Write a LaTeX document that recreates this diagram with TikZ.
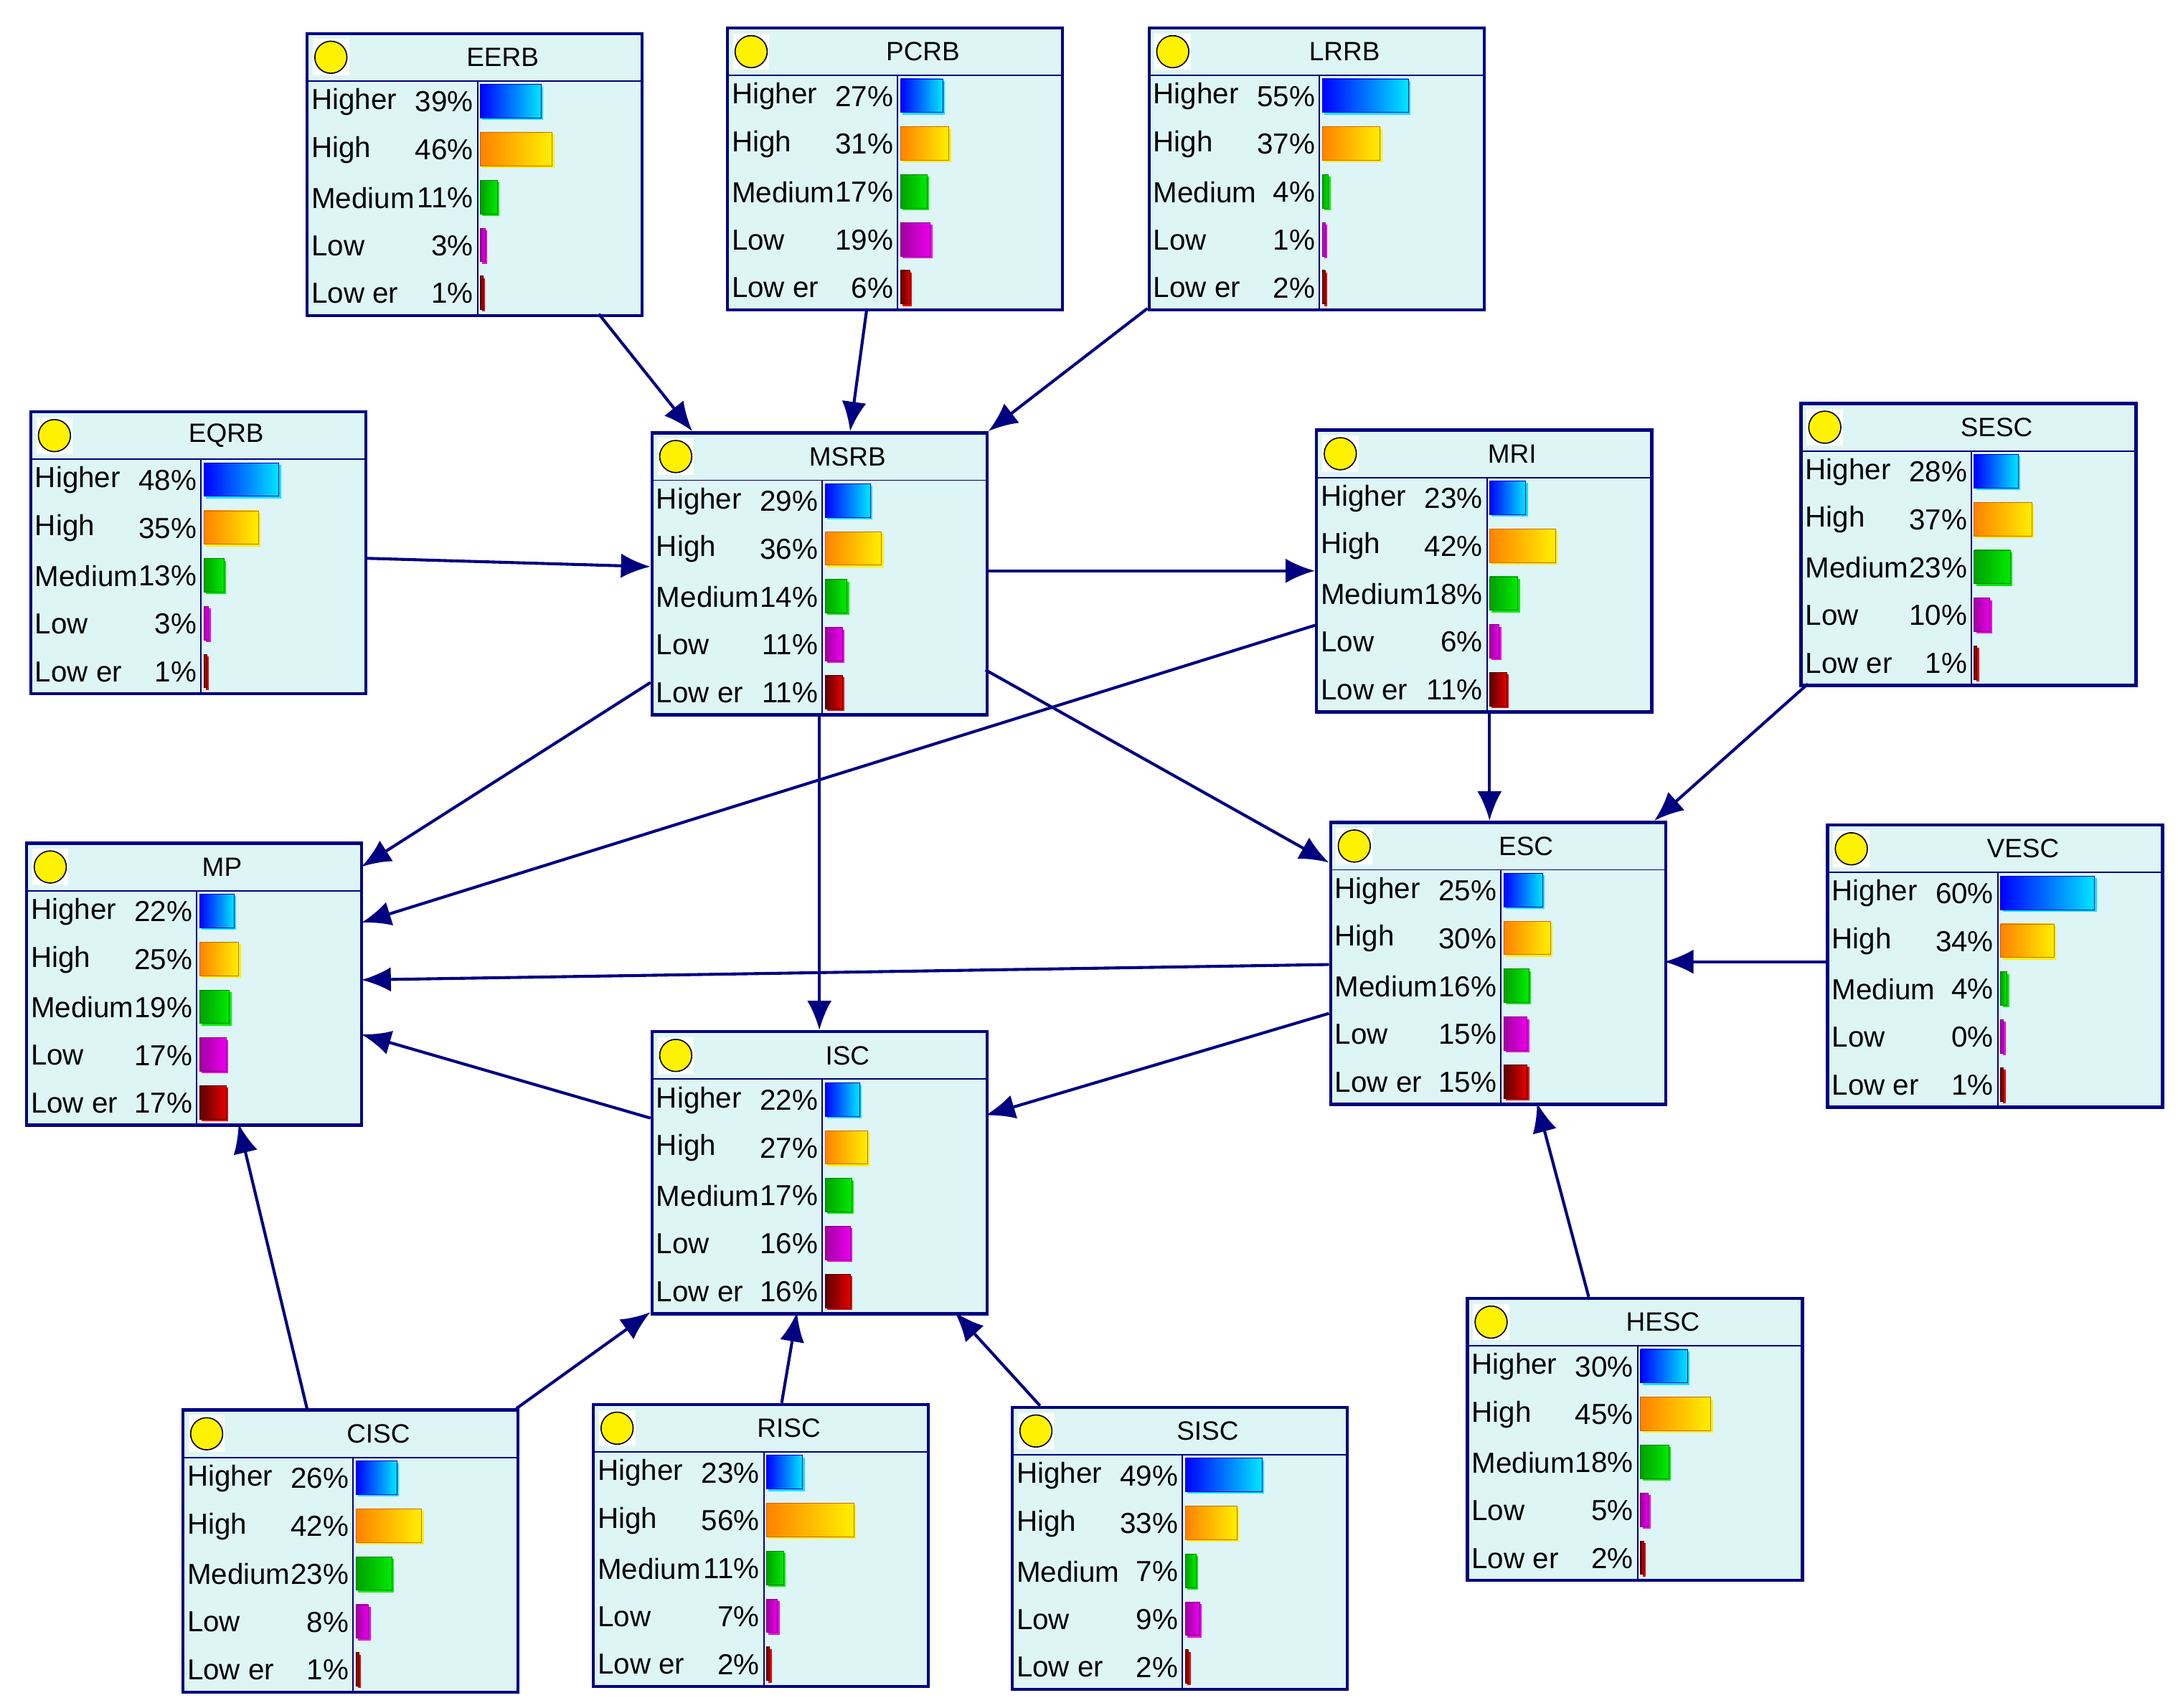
\documentclass[tikz,border=0pt]{standalone}
\usepackage{fontspec}
\setmainfont{Liberation Sans}
\usetikzlibrary{calc,arrows.meta}
\definecolor{nv}{RGB}{0,0,128}
\definecolor{bg}{RGB}{222,245,245}
\definecolor{b1}{RGB}{0,0,255}\definecolor{b2}{RGB}{0,230,255}
\definecolor{o1}{RGB}{255,130,0}\definecolor{o2}{RGB}{255,240,0}
\definecolor{g1}{RGB}{0,160,0}\definecolor{g2}{RGB}{0,235,0}
\definecolor{m1}{RGB}{160,0,160}\definecolor{m2}{RGB}{235,0,235}
\definecolor{r1}{RGB}{90,0,0}\definecolor{r2}{RGB}{230,0,0}
\tikzset{
 bn/.style={draw=nv,fill=bg,line width=3.2pt,minimum width=12cm,minimum height=10.1cm,inner sep=0pt},
 txt/.style={inner sep=0pt,font=\fontsize{29.5}{32}\selectfont},
 ttl/.style={inner sep=0pt,font=\fontsize{27}{30}\selectfont},
 ed/.style={draw=nv,line width=3pt,-{Latex[length=30pt,width=25pt]}},
 thin/.style={draw=nv,line width=1.4pt}
}
\newcommand\bnrow[5]{%
 \pgfmathsetmacro\ry{49+34.3*#3}%
 \node[anchor=west,txt] at (3,\ry) {#1};%
 \node[anchor=east,txt] at (119,\ry) {#2\%};%
 \pgfmathsetmacro\bw{max(1.12*#2,2)}%
 \fill[#5] (125.5,\ry-11) rectangle (124+\bw+1.5,\ry+13);%
 \shade[left color=#4,right color=#5,draw=#4!80!black,line width=0.6pt] (124,\ry-12.5) rectangle (124+\bw,\ry+11.5);%
}
\newcommand\bn[8]{%
 \node[bn] (#1) at (#2+120,#3+101) {};%
 \begin{scope}[shift={(#2,#3)}]
 \draw[thin] (0,34)--(240,34) (122,34)--(122,202);
 \fill[white] (4,4) rectangle (30,30);
 \filldraw[fill=yellow,draw=black,line width=1.2pt] (17,17) circle (11.5);
 \node[ttl] at (140,17) {#1};
 \bnrow{Higher}{#4}{0}{b1}{b2}
 \bnrow{High}{#5}{1}{o1}{o2}
 \bnrow{Medium}{#6}{2}{g1}{g2}
 \bnrow{Low}{#7}{3}{m1}{m2}
 \bnrow{Low er}{#8}{4}{r1}{r2}
 \end{scope}}
\begin{document}
\begin{tikzpicture}[x=0.05cm,y=-0.05cm]
\useasboundingbox (0,0) rectangle (1560,1223);
\fill[white] (0,0) rectangle (1560,1223);
\bn{EERB}{220}{24}{39}{46}{11}{3}{1}
\bn{PCRB}{521}{20}{27}{31}{17}{19}{6}
\bn{LRRB}{823}{20}{55}{37}{4}{1}{2}
\bn{EQRB}{22}{295}{48}{35}{13}{3}{1}
\bn{MSRB}{467}{310}{29}{36}{14}{11}{11}
\bn{MRI}{943}{308}{23}{42}{18}{6}{11}
\bn{SESC}{1290}{289}{28}{37}{23}{10}{1}
\bn{MP}{19}{604}{22}{25}{19}{17}{17}
\bn{ESC}{953}{589}{25}{30}{16}{15}{15}
\bn{VESC}{1309}{591}{60}{34}{4}{0}{1}
\bn{ISC}{467}{739}{22}{27}{17}{16}{16}
\bn{HESC}{1051}{930}{30}{45}{18}{5}{2}
\bn{CISC}{131}{1010}{26}{42}{23}{8}{1}
\bn{RISC}{425}{1006}{23}{56}{11}{7}{2}
\bn{SISC}{725}{1008}{49}{33}{7}{9}{2}
\path[ed] ($(EERB.north west)+(210,202)$) -- ($(MSRB.north west)+(30,0)$);
\path[ed] ($(PCRB.north west)+(101,202)$) -- ($(MSRB.north west)+(143,0)$);
\path[ed] ($(LRRB.north west)+(0,202)$) -- ($(MSRB.north west)+(242,0)$);
\path[ed] ($(EQRB.north west)+(241,106)$) -- ($(MSRB.north west)+(0,97)$);
\path[ed] ($(MSRB.north west)+(240,100)$) -- ($(MRI.north west)+(0,102)$);
\path[ed] ($(MSRB.north west)+(0,180)$) -- ($(MP.north west)+(241,18)$);
\path[ed] ($(MRI.north west)+(0,141)$) -- ($(MP.north west)+(241,58)$);
\path[ed] ($(MSRB.north west)+(240,171)$) -- ($(ESC.north west)+(0,30)$);
\path[ed] ($(MSRB.north west)+(121,203)$) -- ($(ISC.north west)+(121,0)$);
\path[ed] ($(MRI.north west)+(125,203)$) -- ($(ESC.north west)+(115,0)$);
\path[ed] ($(SESC.north west)+(6,202)$) -- ($(ESC.north west)+(233,0)$);
\path[ed] ($(VESC.north west)+(0,99)$) -- ($(ESC.north west)+(240,101)$);
\path[ed] ($(ESC.north west)+(0,103)$) -- ($(MP.north west)+(241,99)$);
\path[ed] ($(ESC.north west)+(0,138)$) -- ($(ISC.north west)+(240,61)$);
\path[ed] ($(ISC.north west)+(0,63)$) -- ($(MP.north west)+(241,138)$);
\path[ed] ($(CISC.north west)+(90,0)$) -- ($(MP.north west)+(153,202)$);
\path[ed] ($(CISC.north west)+(240,0)$) -- ($(ISC.north west)+(0,202)$);
\path[ed] ($(RISC.north west)+(136,0)$) -- ($(ISC.north west)+(105,202)$);
\path[ed] ($(SISC.north west)+(21,0)$) -- ($(ISC.north west)+(218,202)$);
\path[ed] ($(HESC.north west)+(88,0)$) -- ($(ESC.north west)+(149,202)$);
\end{tikzpicture}
\end{document}
